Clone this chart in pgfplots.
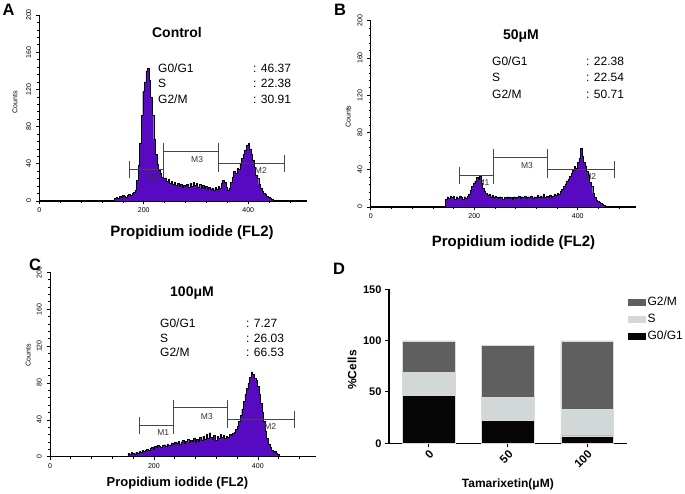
\documentclass[border=0pt]{standalone}
\usepackage{pgfplots}
\pgfplotsset{compat=1.18}
\usepackage{fontspec}
\setmainfont{Liberation Sans}
\definecolor{histv}{RGB}{88,10,195}
\definecolor{gatec}{RGB}{70,70,70}
\definecolor{gtwo}{RGB}{95,95,95}
\definecolor{sph}{RGB}{210,216,216}
\definecolor{gone}{RGB}{5,5,5}

\newcommand{\tk}{\fontsize{7}{8}\selectfont}
\newcommand{\st}{\fontsize{12}{14}\selectfont}

\pgfplotsset{
 histax/.style={
   scale only axis, anchor=south west,
   xmin=0, xmax=512, ymin=0, ymax=200,
   axis x line=bottom, axis y line=left,
   axis line style={-},
   x axis line style={line width=1.6pt},
   y axis line style={line width=0.8pt},
   xtick={0,200,400}, minor xtick={40,80,120,160,240,280,320,360,440,480},
   ytick={0,40,...,200}, minor ytick={8,16,...,192},
   tick align=outside,
   major tick length=3.5pt, minor tick length=2pt,
   tick style={black, line width=0.6pt},
   xticklabel style={font=\tk},
   yticklabel style={font=\tk, rotate=90, anchor=south, inner sep=4.5pt},
   ylabel={Counts},
   ylabel style={font=\tk, anchor=center, rotate=0},
   /pgf/number format/assume math mode=true,
   clip=false,
 },
 hist/.style={const plot, fill=histv, draw=black, line width=0.4pt},
}
\newcommand{\gates}{%
 \draw[gatec,line width=0.9pt] (axis cs:172,25) -- (axis cs:172,43) (axis cs:172,34) -- (axis cs:237,34);
 \draw[gatec,line width=0.9pt] (axis cs:237,25) -- (axis cs:237,62) (axis cs:237,53) -- (axis cs:342,53);
 \draw[gatec,line width=0.9pt] (axis cs:342,31.5) -- (axis cs:342,62) (axis cs:342,40.5) -- (axis cs:470,40.5);
 \draw[gatec,line width=0.9pt] (axis cs:470,31.5) -- (axis cs:470,49.5);
 \node[font=\fontsize{8.5}{9}\selectfont, text=black!80] at (axis cs:218,26) {M1};
 \node[font=\fontsize{8.5}{9}\selectfont, text=black!80] at (axis cs:302,44) {M3};
 \node[font=\fontsize{8.5}{9}\selectfont, text=black!80] at (axis cs:424,33) {M2};
}

\begin{document}
\begin{tikzpicture}
\path[use as bounding box] (0pt,0pt) rectangle (685pt,494pt);

% ---------------- Panel A ----------------
\begin{axis}[histax, at={(39.3pt,293pt)}, width=267.5pt, height=186pt,
  ylabel style={at={(axis description cs:-0.0908,0.53)}},
  xlabel={Propidium iodide (FL2)},
  xlabel style={font=\bfseries\fontsize{15}{16}\selectfont, at={(axis description cs:0.571,-0.172)}, anchor=center}]
\addplot[hist] table[x=x,y=y] {
x y
141 0
144 3
147 4
150 3
153 5
156 4
159 6
162 5
165 4
168 6
171 7
174 6
177 8
180 9
183 12
186 22
189 38
192 62
195 92
198 118
201 128
204 140
207 143
210 130
213 112
216 92
219 66
222 50
225 40
228 33
231 30
234 26
237 24
240 25
243 21
246 23
249 19
252 21
255 18
258 20
261 17
264 19
267 16
270 18
273 15
276 17
279 16
282 18
285 15
288 19
291 16
294 20
297 17
300 19
303 15
306 18
309 14
312 17
315 14
318 16
321 13
324 15
327 13
330 14
333 12
336 15
339 13
342 16
345 14
348 19
351 22
354 20
357 15
360 12
363 14
366 20
369 26
372 32
375 30
378 35
381 34
384 40
387 46
390 50
393 55
396 60
399 62
402 56
405 50
408 44
411 36
414 28
417 24
420 18
423 14
426 11
429 8
432 7
435 5
438 4
441 3
444 2
447 1
450 0
} \closedcycle;
\gates
\end{axis}

% ---------------- Panel B ----------------
\begin{axis}[histax, at={(370.7pt,287pt)}, width=265pt, height=186.3pt,
  ylabel style={at={(axis description cs:-0.0845,0.485)}},
  xlabel={Propidium iodide (FL2)},
  xlabel style={font=\bfseries\fontsize{15}{16}\selectfont, at={(axis description cs:0.539,-0.19)}, anchor=center}]
\addplot[hist] table[x=x,y=y] {
x y
141 0
144 8
147 11
150 9
153 12
156 10
159 12
162 8
165 11
168 9
171 12
174 10
177 8
180 11
183 9
186 12
189 14
192 18
195 22
198 26
201 28
204 32
207 30
210 33
213 26
216 20
219 17
222 15
225 13
228 14
231 11
234 13
237 10
240 12
243 10
246 9
249 11
252 10
255 8
258 10
261 9
264 11
267 9
270 10
273 8
276 11
279 9
282 10
285 12
288 9
291 11
294 10
297 12
300 9
303 11
306 10
309 12
312 9
315 11
318 10
321 13
324 10
327 12
330 11
333 14
336 10
339 12
342 11
345 13
348 11
351 12
354 14
357 13
360 15
363 14
366 17
369 19
372 22
375 25
378 28
381 30
384 33
387 36
390 40
393 44
396 42
399 48
402 52
405 63
408 55
411 48
414 44
417 38
420 34
423 27
426 22
429 15
432 10
435 7
438 6
441 5
444 4
447 3
450 2
453 0
} \closedcycle;
\gates
\end{axis}

% ---------------- Panel C ----------------
\begin{axis}[histax, at={(50pt,37.3pt)}, width=266pt, height=184.4pt,
  ylabel style={at={(axis description cs:-0.0816,0.55)}},
  xlabel={Propidium iodide (FL2)},
  xlabel style={font=\bfseries\fontsize{13}{14}\selectfont, at={(axis description cs:0.479,-0.143)}, anchor=center}]
\addplot[hist] table[x=x,y=y] {
x y
147 0
150 4
153 3
156 5
159 4
162 3
165 5
168 4
171 6
174 5
177 7
180 6
183 7
186 8
189 7
192 9
195 10
198 8
201 11
204 10
207 12
210 11
213 10
216 12
219 13
222 11
225 14
228 12
231 13
234 15
237 14
240 16
243 15
246 17
249 14
252 16
255 18
258 15
261 17
264 19
267 16
270 18
273 17
276 20
279 16
282 19
285 17
288 21
291 18
294 22
297 19
300 24
303 20
306 26
309 21
312 19
315 23
318 18
321 22
324 20
327 24
330 21
333 23
336 20
339 22
342 21
345 24
348 23
351 25
354 27
357 30
360 33
363 38
366 45
369 52
372 60
375 68
378 74
381 80
384 86
387 92
390 89
393 85
396 83
399 76
402 68
405 58
408 48
411 38
414 28
417 20
420 14
423 10
426 7
429 5
432 6
435 4
438 3
441 1
444 0
} \closedcycle;
\gates
\end{axis}

% ---------------- Panel D ----------------
\begin{axis}[scale only axis, anchor=south west, at={(389pt,50.7pt)}, width=237.7pt, height=154pt,
  ybar stacked, bar width=0.66, xmin=-0.5, xmax=2.5, ymin=0, ymax=150,
  axis x line=bottom, axis y line=left, axis line style={-, line width=1.2pt},
  xtick={0,1,2}, xticklabels={0,50,100}, ytick={0,50,100,150},
  tick align=outside, major tick length=4pt, tick style={black, line width=1pt},
  xticklabel style={rotate=45, anchor=north east, inner sep=1.5pt, font=\bfseries\fontsize{11.5}{12}\selectfont},
  yticklabel style={font=\bfseries\fontsize{11}{12}\selectfont},
  ylabel={\%Cells}, ylabel style={font=\bfseries\fontsize{12}{14}\selectfont, at={(axis description cs:-0.1557,0.476)}, anchor=center},
  xlabel={Tamarixetin(μM)}, xlabel style={font=\bfseries\fontsize{12}{14}\selectfont, at={(axis description cs:0.5,-0.27)}, anchor=center},
  /pgf/number format/assume math mode=true,
  legend style={at={(0.99,0.976)}, anchor=north west, draw=none, fill=none, font=\st, row sep=3pt},
  reverse legend, legend cell align=left,
  legend image code/.code={\path[#1, draw=none] (0pt,-3.5pt) rectangle (18pt,3.5pt);},
  clip=false]
\addplot[fill=gone, draw=white!85!black, line width=0.5pt] coordinates {(0,46.37) (1,22.38) (2,7.27)};
\addplot[fill=sph, draw=white!85!black, line width=0.5pt] coordinates {(0,22.38) (1,22.54) (2,26.03)};
\addplot[fill=gtwo, draw=white!85!black, line width=0.5pt] coordinates {(0,30.91) (1,50.71) (2,66.53)};
\legend{G0/G1, S, G2/M}
\end{axis}

% ---------------- Text annotations ----------------
\node[font=\bfseries\fontsize{16.5}{17}\selectfont] at (8.5pt,484pt) {A};
\node[font=\bfseries\fontsize{16.5}{17}\selectfont] at (340pt,484pt) {B};
\node[font=\bfseries\fontsize{16.5}{17}\selectfont] at (35pt,229pt) {C};
\node[font=\bfseries\fontsize{16.5}{17}\selectfont] at (339pt,225pt) {D};

\node[font=\bfseries\fontsize{14}{15}\selectfont] at (177pt,461pt) {Control};
\node[font=\bfseries\fontsize{14}{15}\selectfont] at (521pt,458pt) {50μM};
\node[font=\bfseries\fontsize{14}{15}\selectfont] at (192pt,201pt) {100μM};

\begin{scope}[every node/.style={font=\st, anchor=west, inner sep=0pt}]
\node at (158pt,426pt) {G0/G1}; \node at (253pt,426pt) {: 46.37};
\node at (158pt,411pt) {S};     \node at (253pt,411pt) {: 22.38};
\node at (158pt,395pt) {G2/M};  \node at (253pt,395pt) {: 30.91};

\node at (492pt,433pt) {G0/G1}; \node at (586pt,433pt) {: 22.38};
\node at (492pt,417pt) {S};     \node at (586pt,417pt) {: 22.54};
\node at (492pt,400pt) {G2/M};  \node at (586pt,400pt) {: 50.71};

\node at (160pt,171pt) {G0/G1}; \node at (246pt,171pt) {: 7.27};
\node at (160pt,156pt) {S};     \node at (246pt,156pt) {: 26.03};
\node at (160pt,142pt) {G2/M};  \node at (246pt,142pt) {: 66.53};
\end{scope}
\end{tikzpicture}
\end{document}
